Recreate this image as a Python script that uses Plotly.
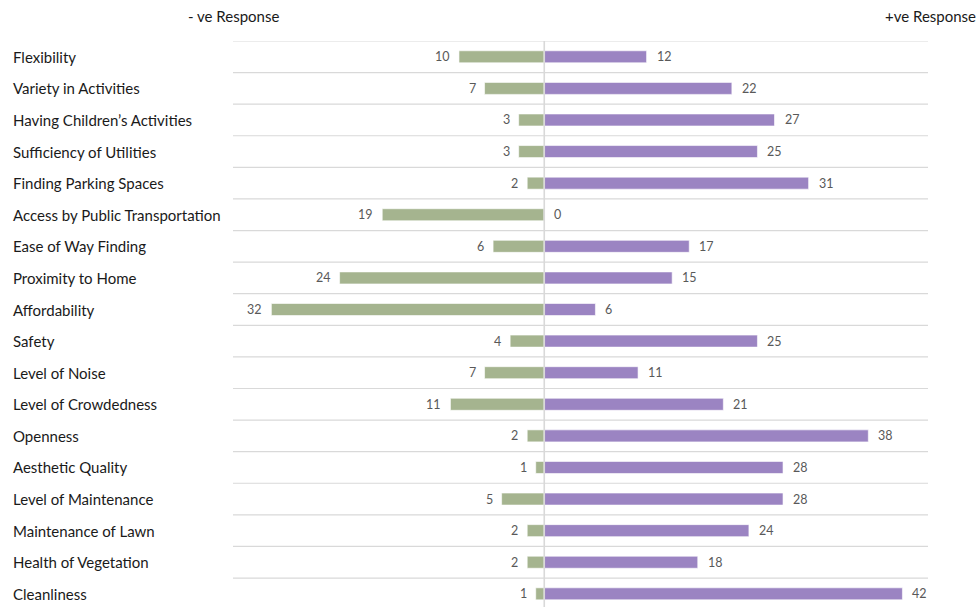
import plotly.graph_objects as go

categories = ["Flexibility", "Variety in Activities", "Having Children’s Activities",
              "Sufficiency of Utilities", "Finding Parking Spaces",
              "Access by Public Transportation", "Ease of Way Finding", "Proximity to Home",
              "Affordability", "Safety", "Level of Noise", "Level of Crowdedness",
              "Openness", "Aesthetic Quality", "Level of Maintenance", "Maintenance of Lawn",
              "Health of Vegetation", "Cleanliness"]
negative = [10, 7, 3, 3, 2, 19, 6, 24, 32, 4, 7, 11, 2, 1, 5, 2, 2, 1]
positive = [12, 22, 27, 25, 31, 0, 17, 15, 6, 25, 11, 21, 38, 28, 28, 24, 18, 42]
header_neg = "- ve Response"
header_pos = "+ve Response"

W, H = 978, 607
ML, MR, MT, MB = 233, 50, 41, 0
pw = W - ML - MR
ph = H - MT - MB
row = 31.59
n = len(categories)
ybottom = -0.5 + ph / row
xmin, xmax = -36.5, 45.0

GREEN = "#A5B48F"
PURPLE = "#9B84C2"
FONT = "Lato, Calibri, 'Open Sans', sans-serif"

ys = list(range(n))
fig = go.Figure()
fig.add_trace(go.Bar(y=ys, x=[-v for v in negative], orientation="h", width=0.38,
                     marker=dict(color=GREEN, line=dict(color="white", width=0.6)),
                     hoverinfo="skip"))
fig.add_trace(go.Bar(y=ys, x=positive, orientation="h", width=0.38,
                     marker=dict(color=PURPLE, line=dict(color="white", width=0.6)),
                     hoverinfo="skip"))

shapes = []
for k in range(n):
    yv = k - 0.5
    shapes.append(dict(type="line", xref="paper", x0=0, x1=1, yref="y", y0=yv, y1=yv,
                       line=dict(color="#D9D9D9", width=1.2), layer="below"))
shapes.append(dict(type="line", xref="x", x0=0, x1=0, yref="paper", y0=0, y1=1,
                   line=dict(color="#D9D9D9", width=1.6), layer="above"))

ann = []
for i, c in enumerate(categories):
    ann.append(dict(x=(11 - ML) / pw, xref="paper", y=i, yref="y", text=c,
                    xanchor="left", yanchor="middle", showarrow=False,
                    font=dict(family=FONT, size=15, color="#1a1a1a")))
    ann.append(dict(x=-negative[i], xref="x", y=i, yref="y", text=str(negative[i]),
                    xanchor="right", yanchor="middle", showarrow=False, xshift=-7,
                    font=dict(family=FONT, size=12.5, color="#595959")))
    ann.append(dict(x=positive[i], xref="x", y=i, yref="y", text=str(positive[i]),
                    xanchor="left", yanchor="middle", showarrow=False, xshift=8,
                    font=dict(family=FONT, size=12.5, color="#595959")))

ann.append(dict(x=(233 - ML) / pw, xref="paper", y=(H - 16 - MB) / ph, yref="paper",
                text=header_neg, xanchor="center", yanchor="middle", showarrow=False,
                font=dict(family=FONT, size=15, color="#1a1a1a")))
ann.append(dict(x=(978 - ML) / pw, xref="paper", y=(H - 16 - MB) / ph, yref="paper",
                text=header_pos, xanchor="right", yanchor="middle", showarrow=False,
                font=dict(family=FONT, size=15, color="#1a1a1a")))

fig.update_layout(
    width=W, height=H,
    margin=dict(l=ML, r=MR, t=MT, b=MB, pad=0),
    barmode="overlay", showlegend=False,
    plot_bgcolor="white", paper_bgcolor="white",
    xaxis=dict(range=[xmin, xmax], showgrid=False, zeroline=False, showticklabels=False,
               showline=False, fixedrange=True),
    yaxis=dict(range=[ybottom, -0.5], showgrid=False, zeroline=False, showticklabels=False,
               showline=False, fixedrange=True),
    shapes=shapes, annotations=ann,
)
fig.write_html("out.html", config={"displayModeBar": False})
